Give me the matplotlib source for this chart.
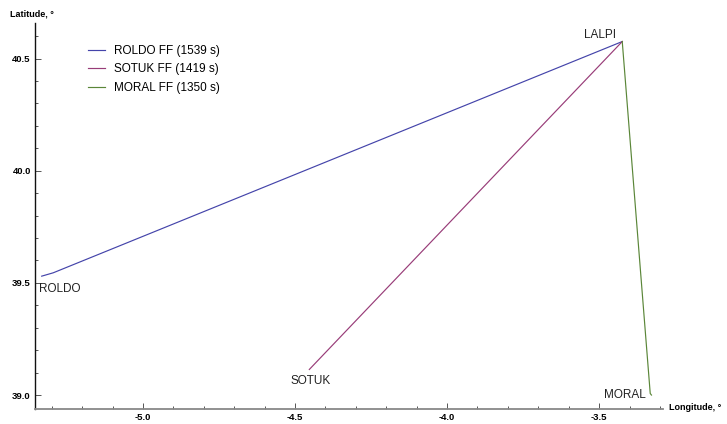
import matplotlib.pyplot as plt
from matplotlib.ticker import MultipleLocator, FormatStrFormatter

plt.rcParams['font.family'] = ['Liberation Sans', 'DejaVu Sans']
plt.rcParams['axes.unicode_minus'] = True

# waypoints
wp_names = ["ROLDO", "SOTUK", "LALPI", "MORAL"]
wp_lon = [-5.333, -4.453, -3.424, -3.328]
wp_lat = [39.53, 39.114, 40.576, 39.0]

# flown trajectories (lon, lat)
roldo_lon = [-5.333, -5.295, -3.424]
roldo_lat = [39.53, 39.545, 40.576]
sotuk_lon = [-4.453, -3.424]
sotuk_lat = [39.114, 40.576]
moral_lon = [-3.424, -3.332, -3.328]
moral_lat = [40.576, 39.007, 39.0]

labels = ["ROLDO FF (1539 s)", "SOTUK FF (1419 s)", "MORAL FF (1350 s)"]
colors = ["#4444aa", "#983c78", "#5a8638"]

fig = plt.figure(figsize=(7.27, 4.24), dpi=100)
ax = fig.add_axes([35 / 727, 15.5 / 424, 628 / 727, 385.8 / 424])

ax.plot(roldo_lon, roldo_lat, color=colors[0], lw=0.85, label=labels[0])
ax.plot(sotuk_lon, sotuk_lat, color=colors[1], lw=0.85, label=labels[1])
ax.plot(moral_lon, moral_lat, color=colors[2], lw=0.85, label=labels[2])

ax.set_xlim(-5.355, -3.29)
ax.set_ylim(38.94, 40.66)

# waypoint names
offsets = {"ROLDO": (18, -13), "SOTUK": (1, -12), "LALPI": (-22, 7), "MORAL": (-27, 0)}
for name, lo, la in zip(wp_names, wp_lon, wp_lat):
    ax.annotate(name, (lo, la), xytext=offsets[name], textcoords="offset pixels",
                ha="center", va="center", fontsize=8.5, color="#222222")

ax.spines['top'].set_visible(False)
ax.spines['right'].set_visible(False)
ax.spines['bottom'].set_color("#888888")
ax.spines['left'].set_color("#111111")
ax.spines['bottom'].set_linewidth(1.3)
ax.spines['left'].set_linewidth(1.0)

ax.xaxis.set_major_locator(MultipleLocator(0.5))
ax.xaxis.set_minor_locator(MultipleLocator(0.1))
ax.yaxis.set_major_locator(MultipleLocator(0.5))
ax.yaxis.set_minor_locator(MultipleLocator(0.1))
ax.xaxis.set_major_formatter(FormatStrFormatter("%.1f"))
ax.yaxis.set_major_formatter(FormatStrFormatter("%.1f"))
ax.tick_params(which="both", direction="in", color="#555555", width=0.7)
ax.tick_params(which="major", length=4, labelsize=6.8, pad=3)
ax.tick_params(which="minor", length=2.2)
for t in ax.get_xticklabels() + ax.get_yticklabels():
    t.set_fontweight("bold")

fig.text(10 / 727, 1 - 14 / 424, "Latitude, °", fontsize=6.5, fontweight="bold",
         va="center", ha="left")
fig.text(669 / 727, 1 - 408 / 424, "Longitude, °", fontsize=6.5, fontweight="bold",
         va="center", ha="left")

ax.legend(loc="upper left", bbox_to_anchor=(0.068, 0.97), frameon=False,
          fontsize=8.5, handlelength=1.45, handletextpad=0.7, labelspacing=0.55)

fig.savefig("out.png", dpi=100)
